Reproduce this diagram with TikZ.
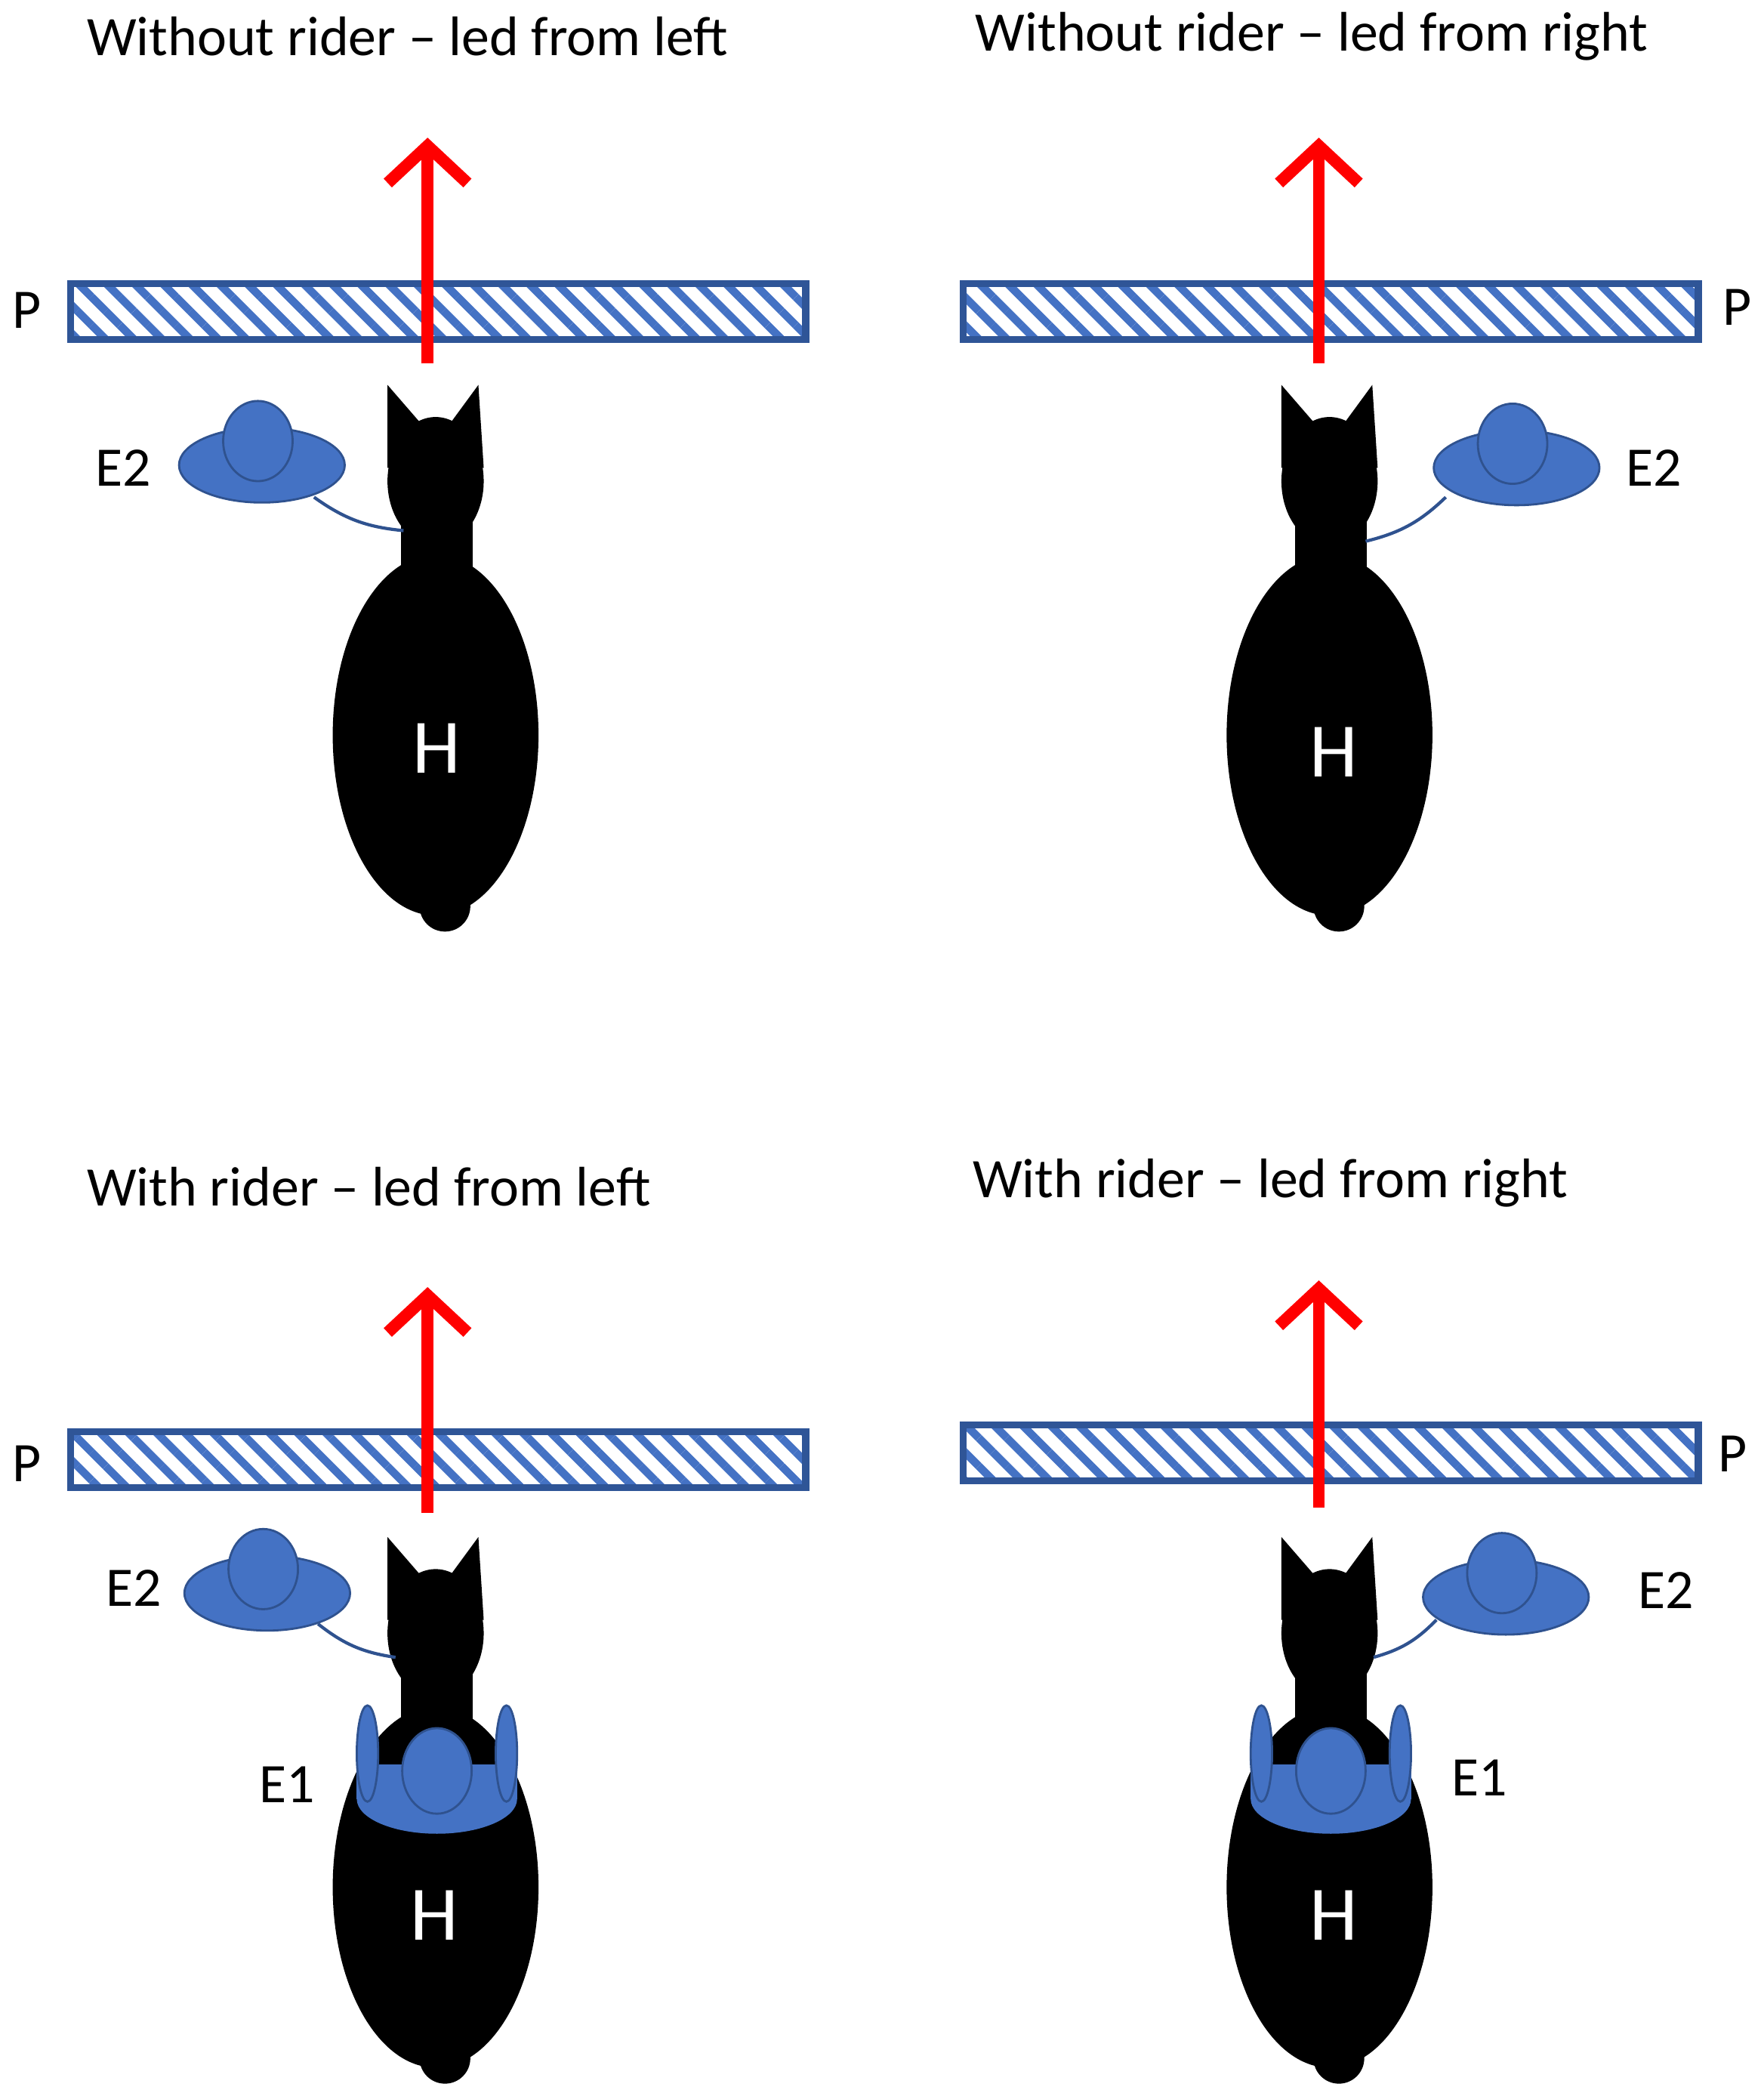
\documentclass[tikz,border=0pt]{standalone}
\usepackage{fontspec}
\setmainfont{Carlito}
\usetikzlibrary{patterns.meta,arrows.meta}
\definecolor{hb}{HTML}{4472C4}
\definecolor{hd}{HTML}{2F528F}
\definecolor{bar}{HTML}{2F5597}
\tikzset{
 lbl/.style={font=\fontsize{21}{24}\selectfont, text=black},
 title/.style={lbl, anchor=west},
 barstyle/.style={draw=bar, line width=2.6pt, pattern={Lines[angle=-45,distance=7.5pt,line width=3pt]}, pattern color=hb},
 dir/.style={red, line width=4.5pt, -{Straight Barb[length=14pt,width=30pt,line width=4.5pt]}},
 lead/.style={hd, line width=1.2pt},
 hat/.style={fill=hb, draw=hd, line width=0.8pt},
 pics/horse/.style={code={
  \fill[black] (0,0) ellipse [x radius=77, y radius=135];
  \fill[black] (7,128) circle [radius=19];
  \fill[black] (-26,-200) rectangle (28,-100);
  \fill[black] (-26,-120) -- (28,-120) -- (50,-95) -- (-50,-95) -- cycle;
  \fill[black] (0,-190) ellipse [x radius=36, y radius=48];
  \fill[black] (-36,-262) -- (-10,-232) -- (10,-232) -- (32,-262) -- (36,-200) -- (-36,-200) -- cycle;
 }},
 pics/rider/.style={code={
  \fill[hb] (0,-66) ellipse [x radius=60, y radius=26];
  \fill[hb] (-60,-92) rectangle (60,-66);
  \draw[hat] (0,-87) ellipse [x radius=26, y radius=32];
  \draw[hat] (-52,-100) ellipse [x radius=8, y radius=36];
  \draw[hat] (52,-100) ellipse [x radius=8, y radius=36];
 }},
 pics/hat/.style={code={
  \draw[hat] (0,0) ellipse [x radius=62, y radius=28];
  \draw[hat] (-3,-18) ellipse [x radius=26, y radius=30];
 }},
}
\begin{document}
\begin{tikzpicture}[x=0.01769cm,y=-0.01769cm]
\useasboundingbox (0,0) rectangle (1320,1566);
% top-left
\node[title] (t1) at (58,27) {Without rider – led from left};
\node[barstyle, minimum width=550*0.01769cm, minimum height=42*0.01769cm, inner sep=0] (b1) at (328,233) {};
\node[lbl] (p1) at (20,232) {P};
\pic at (326,550) {horse};
\node[text=white, font=\fontsize{29}{32}\selectfont] (h1) at (327,560) {H};
\coordinate (a1s) at (320,272); \coordinate (a1e) at (320,103);
\draw[dir] (a1s) -- (a1e);
\pic at (196,348) {hat};
\coordinate (l1a) at (235,372); \coordinate (l1b) at (302,397);
\draw[lead] (l1a) to[bend right=15] (l1b);
\node[lbl] (e21) at (92,350) {E2};
% top-right
\node[title] (t2) at (723,27) {Without rider – led from right};
\node[barstyle, minimum width=550*0.01769cm, minimum height=42*0.01769cm, inner sep=0] (b2) at (996,233) {};
\node[lbl] (p2) at (1300,230) {P};
\pic at (995,550) {horse};
\node[text=white, font=\fontsize{29}{32}\selectfont] (h2) at (998,563) {H};
\coordinate (a2s) at (987,272); \coordinate (a2e) at (987,103);
\draw[dir] (a2s) -- (a2e);
\pic at (1135,350) {hat};
\coordinate (l2a) at (1022,405); \coordinate (l2b) at (1082,372);
\draw[lead] (l2a) to[bend right=15] (l2b);
\node[lbl] (e22) at (1238,350) {E2};
% bottom-left
\node[title] (t3) at (58,888) {With rider – led from left};
\node[barstyle, minimum width=550*0.01769cm, minimum height=42*0.01769cm, inner sep=0] (b3) at (328,1092) {};
\node[lbl] (p3) at (20,1095) {P};
\pic at (326,1412) {horse};
\pic at (327,1412) {rider};
\node[text=white, font=\fontsize{29}{32}\selectfont] (h3) at (325,1433) {H};
\coordinate (a3s) at (320,1132); \coordinate (a3e) at (320,963);
\draw[dir] (a3s) -- (a3e);
\pic at (200,1192) {hat};
\coordinate (l3a) at (238,1215); \coordinate (l3b) at (296,1240);
\draw[lead] (l3a) to[bend right=15] (l3b);
\node[lbl] (e23) at (100,1188) {E2};
\node[lbl] (e13) at (215,1335) {E1};
% bottom-right
\node[title] (t4) at (721,885) {With rider – led from right};
\node[barstyle, minimum width=550*0.01769cm, minimum height=42*0.01769cm, inner sep=0] (b4) at (996,1087) {};
\node[lbl] (p4) at (1297,1088) {P};
\pic at (995,1412) {horse};
\pic at (996,1412) {rider};
\node[text=white, font=\fontsize{29}{32}\selectfont] (h4) at (998,1433) {H};
\coordinate (a4s) at (987,1128); \coordinate (a4e) at (987,958);
\draw[dir] (a4s) -- (a4e);
\pic at (1127,1195) {hat};
\coordinate (l4a) at (1028,1240); \coordinate (l4b) at (1075,1212);
\draw[lead] (l4a) to[bend right=15] (l4b);
\node[lbl] (e24) at (1247,1190) {E2};
\node[lbl] (e14) at (1107,1330) {E1};
\end{tikzpicture}
\end{document}
